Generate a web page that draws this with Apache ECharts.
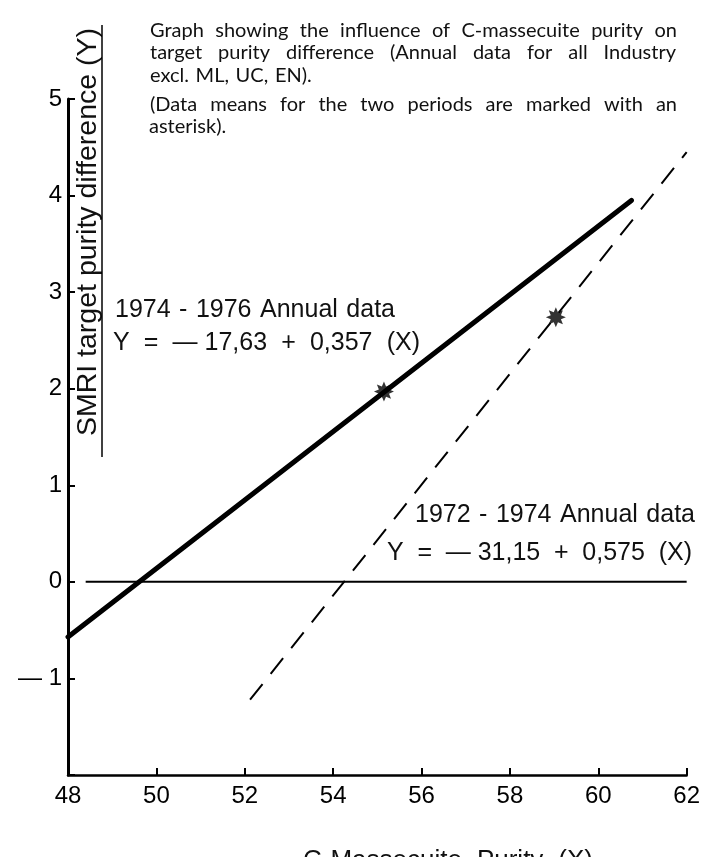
<!DOCTYPE html>
<html>
<head>
<meta charset="utf-8">
<script src="https://cdn.jsdelivr.net/npm/echarts@6/dist/echarts.min.js"></script>
<style>
  html, body { margin: 0; padding: 0; background: #fff; }
  #chart { width: 703px; height: 857px; }
</style>
</head>
<body>
<div id="chart"></div>
<script>
// data
const xTicks = [48, 50, 52, 54, 56, 58, 60, 62];
const yTicks = [-2, -1, 0, 1, 2, 3, 4, 5];
const line7476 = [[48, -0.57], [60.75, 3.95]];     // solid, Y = -17.63 + 0.357 X
const line7274 = [[52.12, -1.22], [62.0, 4.45]];   // dashed, Y = -31.15 + 0.575 X
const zeroLine = [[48.4, 0], [62, 0]];
const meanPoints = [[55.15, 1.97], [59.04, 2.74]]; // asterisks

const chart = echarts.init(document.getElementById("chart"));

// asterisk symbol
function starPath(n, ro, ri) {
  let d = "";
  for (let k = 0; k < n * 2; k++) {
    const a = (Math.PI * k) / n;
    const r = k % 2 ? ri : ro;
    d += (k ? "L" : "M") + (10 + r * Math.cos(a)).toFixed(2) + "," + (10 + r * Math.sin(a)).toFixed(2);
  }
  return "path://" + d + "Z";
}

// spread the words of a line over a given width (the print is justified)
const ctx = document.createElement("canvas").getContext("2d");
function textLine(str, x, y, width, size, family) {
  const words = str.split(" ");
  ctx.font = size + "px " + family;
  const ws = words.map((w) => ctx.measureText(w).width);
  const total = ws.reduce((a, b) => a + b, 0);
  const gap = width && words.length > 1 ? (width - total) / (words.length - 1) : ctx.measureText(" ").width * 1.3;
  let cx = x;
  return words.map((w, i) => {
    const el = {
      type: "text",
      x: cx,
      y: y,
      style: {
        text: w,
        fill: "#111",
        font: size + "px " + family,
        align: "left",
        verticalAlign: "middle",
        textAlign: "left",
        textVerticalAlign: "middle",
      },
    };
    cx += ws[i] + gap;
    return el;
  });
}

const gill = "Lato";
const helv = "'Liberation Sans'";
let texts = [];
texts = texts.concat(textLine("Graph showing the influence of C-massecuite purity on", 150, 31, 527, 20, gill));
texts = texts.concat(textLine("target purity difference (Annual data for all Industry", 150, 53, 526, 20, gill));
texts = texts.concat(textLine("excl. ML, UC, EN).", 150, 76, 0, 20, gill));
texts = texts.concat(textLine("(Data means for the two periods are marked with an", 150, 105, 527, 20, gill));
texts = texts.concat(textLine("asterisk).", 149, 127, 0, 20, gill));

texts = texts.concat(textLine("1974 - 1976 Annual data", 115, 310, 280, 25, helv));
texts = texts.concat(textLine("Y = —\u00a017,63 + 0,357 (X)", 113, 343, 307, 25, helv));
texts = texts.concat(textLine("1972 - 1974 Annual data", 415, 515, 280, 25, helv));
texts = texts.concat(textLine("Y = —\u00a031,15 + 0,575 (X)", 387, 553, 305, 25, helv));
texts = texts.concat(textLine("C-Massecuite Purity (X)", 303, 861, 290, 26, helv));

const option = {
  backgroundColor: "#fff",
  animation: false,
  grid: { left: 68, right: 16, top: 99, bottom: 82 },
  xAxis: {
    type: "value",
    min: xTicks[0],
    max: xTicks[xTicks.length - 1],
    interval: 2,
    axisLine: { onZero: false, lineStyle: { color: "#000", width: 2.5 } },
    axisTick: { inside: true, length: 7, lineStyle: { color: "#000", width: 2 } },
    axisLabel: { color: "#000", fontSize: 24, fontFamily: helv, margin: 9 },
    splitLine: { show: false },
  },
  yAxis: {
    type: "value",
    min: yTicks[0],
    max: yTicks[yTicks.length - 1],
    interval: 1,
    axisLine: { show: true, onZero: false, lineStyle: { color: "#000", width: 3 } },
    axisTick: { show: true, inside: true, length: 7, lineStyle: { color: "#000", width: 2 } },
    axisLabel: {
      color: "#000",
      fontSize: 24,
      fontFamily: helv,
      margin: 6,
      formatter: (v) => (v === -2 ? "" : v === -1 ? "— 1" : String(v)),
    },
    splitLine: { show: false },
  },
  series: [
    {
      type: "line",
      data: zeroLine,
      symbol: "none",
      lineStyle: { color: "#000", width: 2 },
    },
    {
      type: "line",
      data: line7476,
      symbol: "none",
      lineStyle: { color: "#000", width: 5, cap: "round" },
    },
    {
      type: "line",
      data: line7274,
      symbol: "none",
      lineStyle: { color: "#000", width: 2, type: [20, 13] },
    },
    {
      type: "scatter",
      data: meanPoints,
      symbol: starPath(8, 10, 5.5),
      symbolSize: 20,
      itemStyle: { color: "#000" },
    },
  ],
  graphic: texts.concat([
    {
      type: "text",
      x: 88,
      y: 232,
      rotation: Math.PI / 2,
      style: {
        text: "SMRI target purity difference (Y)",
        fill: "#111",
        font: "28.5px " + helv,
        align: "center",
        verticalAlign: "middle",
        textAlign: "center",
        textVerticalAlign: "middle",
      },
    },
    {
      type: "line",
      shape: { x1: 102, y1: 25, x2: 102, y2: 457 },
      style: { stroke: "#000", lineWidth: 1.5 },
    },
  ]),
};
chart.setOption(option);
</script>
</body>
</html>
